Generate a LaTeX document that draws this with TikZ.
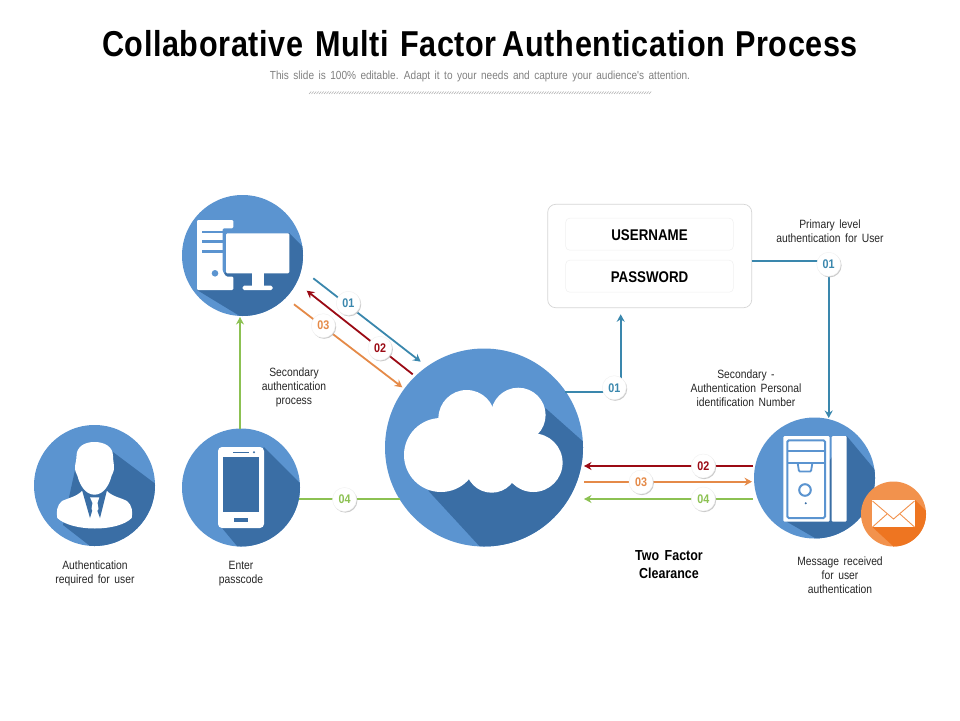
\documentclass[tikz,border=0pt]{standalone}
\usepackage{fontspec}
\usetikzlibrary{arrows.meta,shadows}
\setmainfont{Liberation Sans}
\newfontfamily\narrowf[FakeStretch=.86,WordSpace=1.6]{Liberation Sans}
\newfontfamily\titlef[FakeStretch=.85,LetterSpace=1.7]{Liberation Sans}
\definecolor{discL}{HTML}{5B94D0}
\definecolor{discD}{HTML}{3A6EA5}
\definecolor{mailL}{HTML}{F2924D}
\definecolor{mailD}{HTML}{EE7521}
\definecolor{lnBlue}{HTML}{3A87AD}
\definecolor{lnRed}{HTML}{9B0A14}
\definecolor{lnOrange}{HTML}{E58A48}
\definecolor{lnGreen}{HTML}{8CC152}
\tikzset{
  disc/.style={circle,fill=discL,inner sep=0pt,outer sep=0pt,minimum size=#1},
  conn/.style={line width=1.8pt,-{Stealth[length=7.5pt,width=8pt,inset=2.5pt]}},
  plainconn/.style={line width=1.8pt},
  badge/.style={circle,fill=white,draw=black!6,line width=.4pt,inner sep=0pt,minimum size=24pt,
     font=\narrowf\bfseries\fontsize{12.5}{12.5}\selectfont,
     drop shadow={shadow xshift=.9pt,shadow yshift=-1.1pt,fill=black!25,opacity=.8}},
  capt/.style={align=center,inner sep=0pt,font=\narrowf\fontsize{12}{14}\selectfont,text=black!85},
  field/.style={draw=black!6,line width=.5pt,rounded corners=4pt,fill=white,inner sep=0pt,
     minimum width=167.6pt,minimum height=32pt,text height=13pt,text depth=0pt,
     font=\narrowf\bfseries\fontsize{15.5}{16}\selectfont},
  icon/.style={fill=white,draw=none},
  longshade/.style={fill=discD,draw=none}
}
\begin{document}
\begin{tikzpicture}[x=1pt,y=-1pt]
\useasboundingbox (0,0) rectangle (960,720);
\fill[white] (0,0) rectangle (960,720);
% title
\node[inner sep=0pt,font=\titlef\bfseries\fontsize{36}{40}\selectfont] (title) at (480,44) {Collaborative\kern3pt{} Multi\kern2pt{} Factor\kern-3pt{} Authentication\kern1pt{} Process};
\node[inner sep=0pt,text=black!50,font=\narrowf\fontsize{11.7}{14}\selectfont] (sub) at (480,76) {This slide is 100\% editable. Adapt it to your needs and capture your audience's attention.};
\foreach \x in {309,311.5,...,650} \draw[black!32,line width=.5pt] (\x,94) -- (\x+2.2,91.5);

% discs
\node[disc=121pt] (comp) at (242.5,255.5) {};
\node[disc=121pt] (pers) at (94.5,485.5) {};
\node[disc=118pt] (phone) at (241,487.5) {};
\node[disc=198pt] (cloud) at (484,447.5) {};
\node[disc=121pt] (serv) at (814.5,478) {};

% computer icon
\begin{scope}
\clip (242.5,255.5) circle (60.5);
\fill[longshade] (289,233) -- (349,293) -- (300,400) -- (260,328.3) -- (197,290) -- cycle;
\end{scope}
\fill[icon,rounded corners=1.2pt] (197,220) -- (233.3,220) -- (233.3,228.3) -- (222.5,228.3) -- (222.5,271) -- (226,276.5) -- (233.3,276.5) -- (233.3,290) -- (197,290) -- cycle;
\fill[discL] (202,230.5) rectangle (223,233.2);
\fill[discL] (202,240) rectangle (223,243);
\fill[discL] (202,249.5) rectangle (223,252.5);
\fill[discL] (215,273.3) circle (3.3);
\fill[icon,rounded corners=1.2pt] (226,233.3) rectangle (289.3,273.3);
\fill[icon] (251.7,273) rectangle (264,287);
\fill[icon,rounded corners=1.5pt] (242.7,285.7) rectangle (272.7,290);

% person icon
\begin{scope}
\clip (94.5,485.5) circle (60.5);
\fill[longshade] (113,452) -- (173,497) -- (130,580) -- (90,546) -- (63,525) -- (75,470) -- cycle;
\end{scope}
\fill[icon] (57.3,518) .. controls (56,512) and (57,505) .. (62,501)
  .. controls (68,498) and (76,497) .. (82,491) -- (107,491)
  .. controls (113,497) and (122,498) .. (127,501)
  .. controls (132,505) and (133,512) .. (131.7,518)
  .. controls (118,532) and (72,532) .. (57.3,518) -- cycle;
\fill[discD] (82,490) -- (107,490) -- (100,518) -- (94.5,503) -- (90,518) -- cycle;
\fill[icon] (90,497.3) -- (99.3,497.3) -- (97.5,503) -- (98.5,509) -- (95,514) -- (91.5,509) -- (92.5,503) -- cycle;
\fill[icon] (76.5,456) .. controls (76.5,447) and (84,442) .. (94.5,442)
  .. controls (105,442) and (113,447) .. (113,456)
  .. controls (113,460) and (114,464) .. (114,468)
  .. controls (114,472) and (112,474) .. (111.5,476)
  .. controls (109,486) and (103,494.7) .. (94.5,494.7)
  .. controls (86,494.7) and (80,486) .. (77.5,476)
  .. controls (77,474) and (75,472) .. (75,468)
  .. controls (75,464) and (76.5,460) .. (76.5,456) -- cycle;

% phone icon
\begin{scope}
\clip (241,487.5) circle (59);
\fill[longshade] (264,447) -- (324,507) -- (270,590) -- (237,546) -- (222,528) -- cycle;
\end{scope}
\fill[icon,rounded corners=4pt] (218,447) rectangle (264,528);
\fill[discD] (223,457) rectangle (259,512);
\fill[discD] (233,451.7) rectangle (249,452.7);
\fill[discD] (254,452.2) circle (1.2);
\fill[discD] (234,518) rectangle (248,522);

% cloud icon
\begin{scope}
\clip (484,447.5) circle (99);
\fill[longshade] (545.7,408.3) -- (605,461) -- (540,600) -- (479,545.7) -- (428.3,490.7) -- cycle;
\end{scope}
\fill[icon] (441,455) circle (37);
\fill[icon] (466.7,418.3) circle (28.3);
\fill[icon] (518.3,415) circle (27.3);
\fill[icon] (533.3,462.7) circle (29.3);
\fill[icon] (491.7,466.7) circle (26);
\fill[icon] (490,440) circle (30);
\fill[icon] (515,445) circle (22);

% server icon
\begin{scope}
\clip (814.5,478) circle (60.5);
\fill[longshade] (846.7,436) -- (890,488) -- (850,570) -- (815,538) -- (786.7,521.7) -- cycle;
\end{scope}
\fill[icon,rounded corners=1.2pt] (783.3,436) rectangle (829.5,521.7);
\fill[icon,rounded corners=1.2pt] (831.7,436) rectangle (846.7,521.7);
\draw[discL,line width=2pt,rounded corners=1.5pt] (787.3,440.3) rectangle (825,518);
\draw[discL,line width=2pt] (787.3,450.7) -- (825,450.7);
\draw[discL,line width=2pt] (787.3,463.3) -- (825,463.3);
\draw[discL,line width=1.8pt,rounded corners=1pt] (797.7,463.3) -- (799,471.5) -- (811,471.5) -- (812.3,463.3);
\draw[discL,line width=2pt] (805,490) circle (5.8);
\fill[discD] (805.7,503.3) circle (1.1);

% mail badge
\node[circle,fill=mailL,inner sep=0pt,minimum size=65pt] (mail) at (893.5,514) {};
\begin{scope}
\clip (893.5,514) circle (32.5);
\fill[mailD] (915,500) -- (945,530) -- (915,570) -- (893,546) -- (872.7,527.3) -- cycle;
\end{scope}
\fill[icon] (871.7,500) rectangle (915,527.3);
\draw[mailL,line width=.9pt] (872.5,501) -- (893.5,519) -- (914.5,501);
\draw[mailL,line width=.9pt] (872.5,527) -- (887,514);
\draw[mailL,line width=.9pt] (914.5,527) -- (900,514);

% login box
\node[draw=black!16,line width=.7pt,rounded corners=8pt,inner sep=0pt,minimum width=204pt,minimum height=103.4pt,fill=white] (login) at (649.7,256) {};
\node[field] (user) at (649.5,234.2) {USERNAME};
\node[field] (pass) at (649.5,276.2) {PASSWORD};

% free ends of connectors
\coordinate (a1s) at (313.3,278.3);
\coordinate (a1e) at (420.7,361.7);
\coordinate (a2s) at (412.7,374.3);
\coordinate (a2e) at (306.7,290.7);
\coordinate (a3s) at (294,304.3);
\coordinate (a3e) at (402.3,387.3);
\coordinate (c1) at (565,391.7);
\coordinate (c1k) at (620.7,391.7);
\coordinate (c1e) at (620.7,314.3);
\coordinate (l1) at (751.7,261);
\coordinate (l1k) at (828.7,261);
\coordinate (l1e) at (828.7,418);
\coordinate (r2s) at (753,466);
\coordinate (r2e) at (584,466);
\coordinate (r3s) at (584,481.7);
\coordinate (r3e) at (752,481.7);
\coordinate (r4s) at (753,499);
\coordinate (r4e) at (584,499);
\coordinate (pu) at (240,317);

% connectors
\draw[conn,lnGreen] (phone.north -| pu) -- (pu);
\draw[plainconn,lnGreen] (phone.-11.2) -- (phone.-11.2 -| cloud.-148.7);
\draw[conn,lnBlue] (a1s) -- (a1e);
\draw[conn,lnRed] (a2s) -- (a2e);
\draw[conn,lnOrange] (a3s) -- (a3e);
\draw[conn,lnBlue] (c1) -- (c1k) -- (c1e);
\draw[conn,lnBlue] (l1) -- (l1k) -- (l1e);
\draw[conn,lnRed] (r2s) -- (r2e);
\draw[conn,lnOrange] (r3s) -- (r3e);
\draw[conn,lnGreen] (r4s) -- (r4e);

% badges
\node[badge,text=lnBlue] (b1) at (348.3,303.3) {01};
\node[badge,text=lnRed] (b2) at (380,348.3) {02};
\node[badge,text=lnOrange] (b3) at (323.3,325.7) {03};
\node[badge,text=lnGreen] (b4) at (344.5,499.5) {04};
\node[badge,text=lnBlue] (b5) at (614.3,387.7) {01};
\node[badge,text=lnBlue] (b6) at (828.7,264.3) {01};
\node[badge,text=lnRed] (b7) at (703.3,466) {02};
\node[badge,text=lnOrange] (b8) at (641,482) {03};
\node[badge,text=lnGreen] (b9) at (703.3,499) {04};

% captions
\node[capt] (t1) at (294,387.5) {Secondary\\authentication\\process};
\node[capt] (t2) at (746,388) {Secondary -\\Authentication Personal\\identification Number};
\node[capt] (t3) at (830,231) {Primary level\\authentication for User};
\node[capt] (t4) at (95,573) {Authentication\\required for user};
\node[capt] (t5) at (241,573.5) {Enter\\passcode};
\node[capt] (t6) at (840,575) {Message received\\for user\\authentication};
\node[align=center,inner sep=0pt,font=\narrowf\bfseries\fontsize{14.5}{18}\selectfont] (t7) at (669,564.5) {Two Factor\\Clearance};
\end{tikzpicture}
\end{document}
